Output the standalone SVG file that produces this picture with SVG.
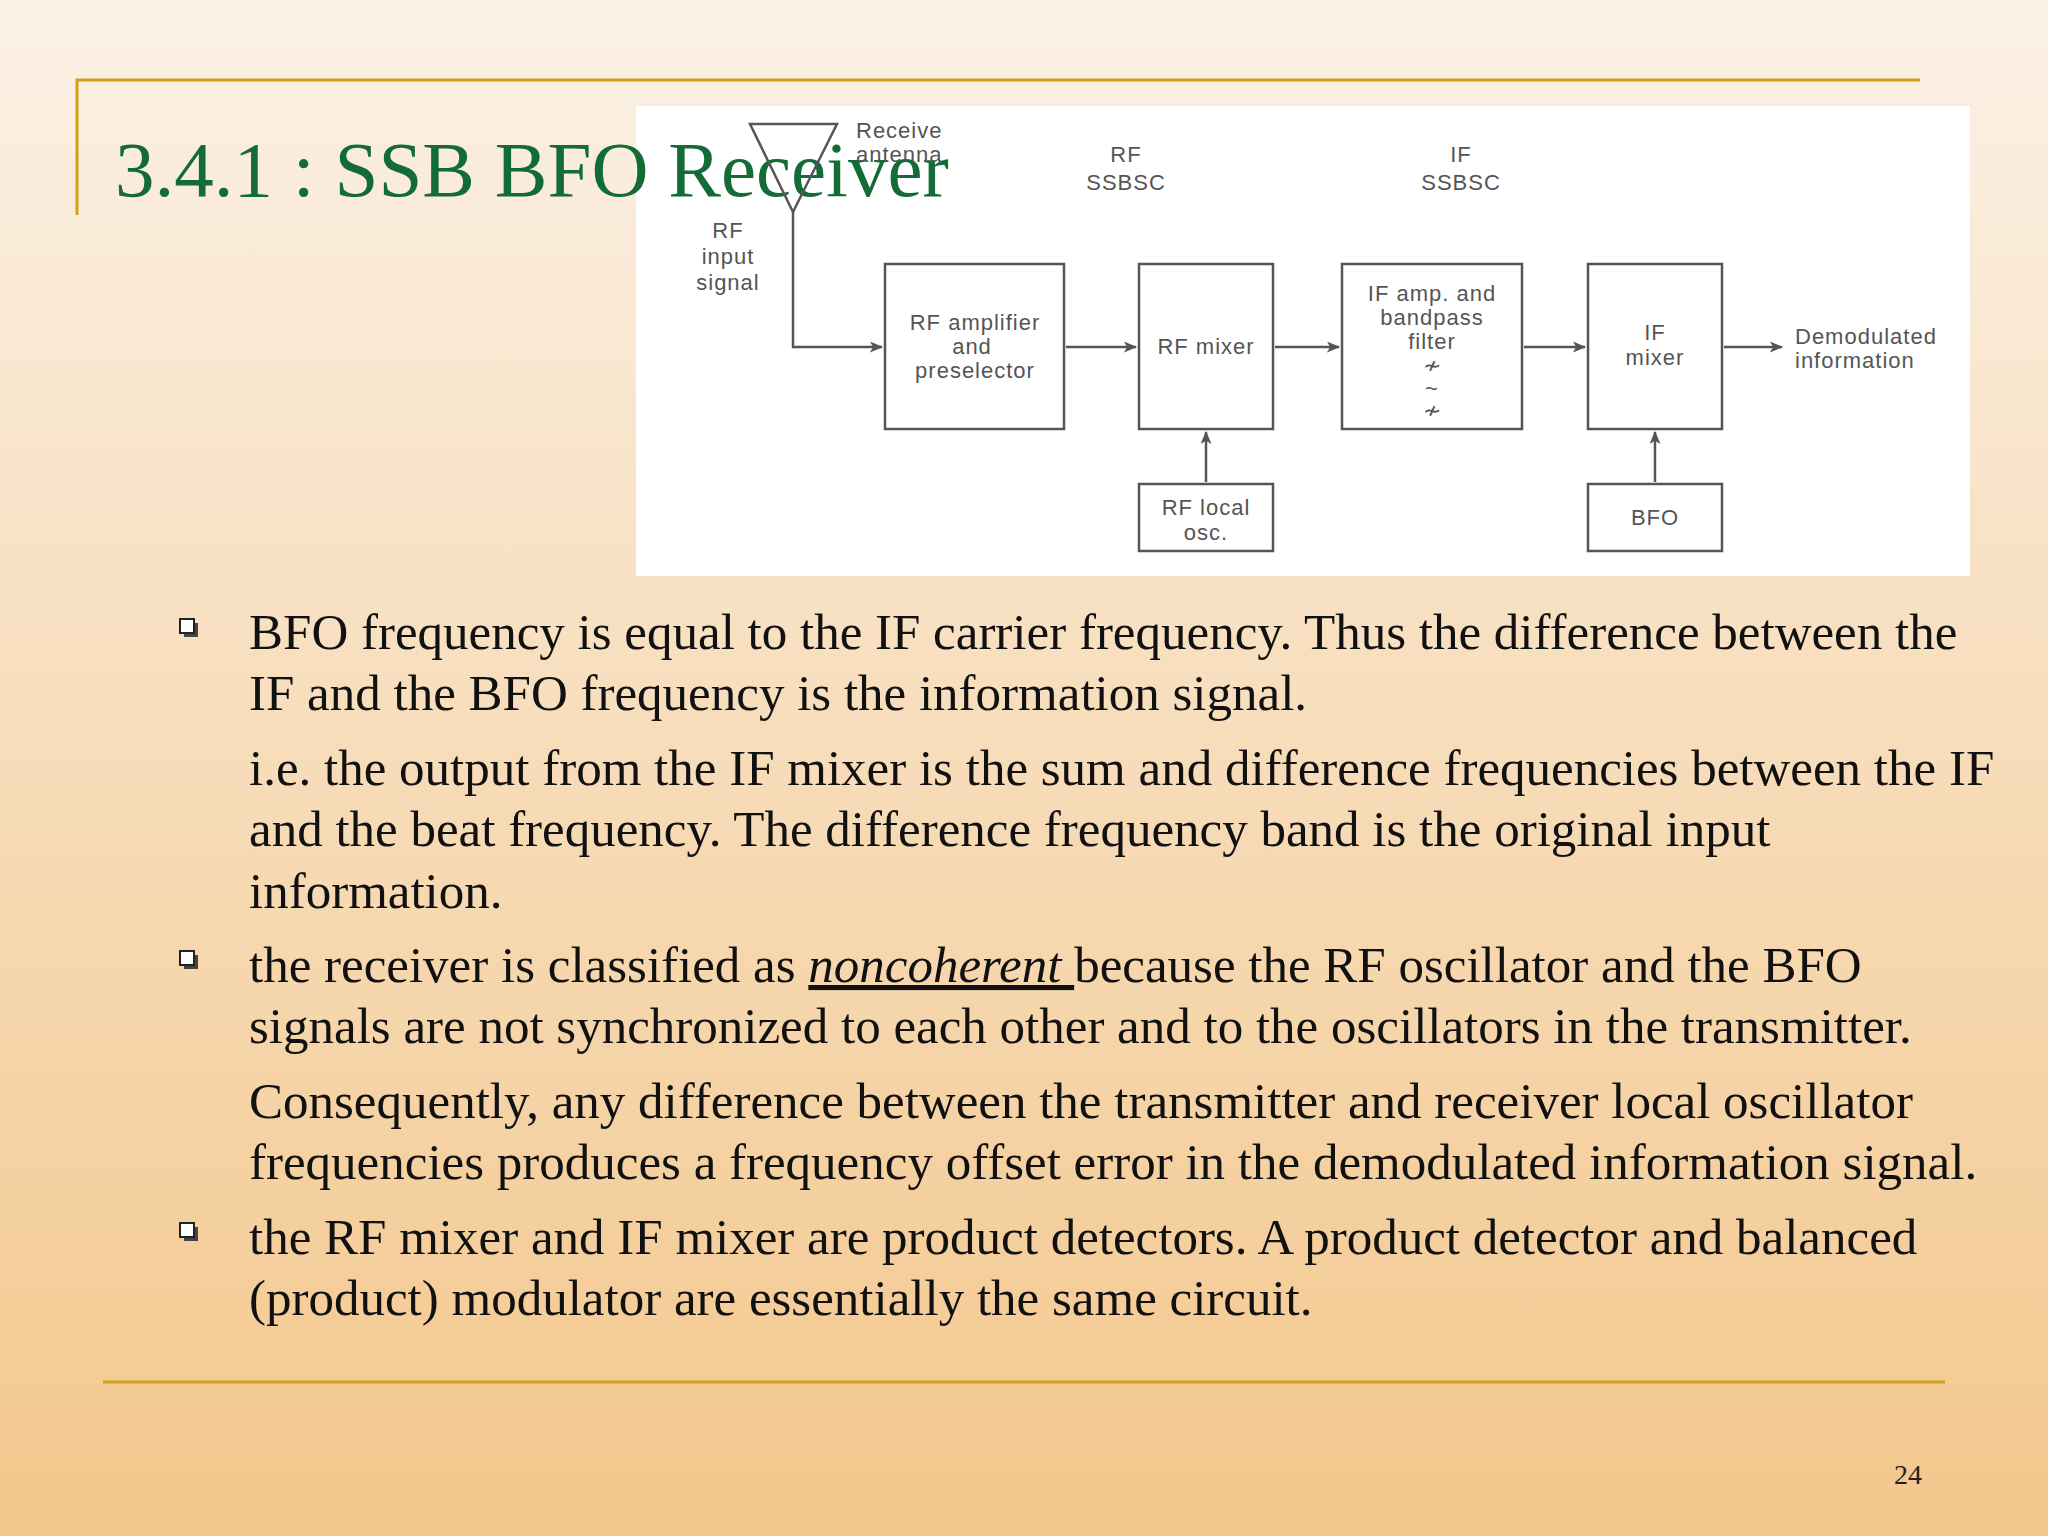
<svg xmlns="http://www.w3.org/2000/svg" width="2048" height="1536" viewBox="0 0 2048 1536">
<defs>
<linearGradient id="bg" x1="0" y1="0" x2="0" y2="1">
<stop offset="0" stop-color="#fbf1e6"/>
<stop offset="1" stop-color="#f3c78c"/>
</linearGradient>
<marker id="ar" viewBox="0 0 12 10" refX="11" refY="5" markerWidth="14" markerHeight="11" markerUnits="userSpaceOnUse" orient="auto">
<path d="M0,0 L12,5 L0,10 L3,5 Z" fill="#555"/>
</marker>
</defs>
<style>
.bx{fill:none;stroke:#555;stroke-width:2.5}
.ln{fill:none;stroke:#555;stroke-width:2.5}
.dt{font-family:"Liberation Sans",Arial,sans-serif;font-size:22px;fill:#555;text-anchor:middle;letter-spacing:1px}
.body{font-family:"Liberation Serif","Times New Roman",serif;font-size:51px;fill:#111}
.gold{stroke:#d4a017;stroke-width:3;fill:none}
.bul{fill:#fff;stroke:#222;stroke-width:2}
</style>
<rect width="2048" height="1536" fill="url(#bg)"/>
<path class="gold" d="M77,215 V80 H1920"/>
<path class="gold" d="M103,1382 H1945"/>
<rect x="636" y="106" width="1334" height="470" fill="#fff"/>
<text x="115" y="196" font-family="Liberation Serif,serif" font-size="79" fill="#136b35">3.4.1 : SSB BFO Receiver</text>
<g id="antenna">
<path class="ln" d="M750,124 H837 L793,212 Z"/>
<text class="dt" x="856" y="138" style="text-anchor:start">Receive</text>
<text class="dt" x="856" y="162" style="text-anchor:start">antenna</text>
</g>
<g id="labels">
<text class="dt" x="1126" y="162">RF</text>
<text class="dt" x="1126" y="190">SSBSC</text>
<text class="dt" x="1461" y="162">IF</text>
<text class="dt" x="1461" y="190">SSBSC</text>
<text class="dt" x="728" y="238">RF</text>
<text class="dt" x="728" y="264">input</text>
<text class="dt" x="728" y="290">signal</text>
<text class="dt" x="1795" y="344" style="text-anchor:start">Demodulated</text>
<text class="dt" x="1795" y="368" style="text-anchor:start">information</text>
</g>
<g id="rfamp"><rect class="bx" x="885" y="264" width="179" height="165"/>
<text class="dt" x="975" y="330">RF amplifier</text><text class="dt" x="972" y="354">and</text><text class="dt" x="975" y="378">preselector</text></g>
<g id="rfmixer"><rect class="bx" x="1139" y="264" width="134" height="165"/>
<text class="dt" x="1206" y="354">RF mixer</text></g>
<g id="ifamp"><rect class="bx" x="1342" y="264" width="180" height="165"/>
<text class="dt" x="1432" y="301">IF amp. and</text><text class="dt" x="1432" y="325">bandpass</text><text class="dt" x="1432" y="349">filter</text>
<text class="dt" x="1432" y="373" font-size="18">≁</text><text class="dt" x="1432" y="396" font-size="18">~</text><text class="dt" x="1432" y="418" font-size="18">≁</text></g>
<g id="ifmixer"><rect class="bx" x="1588" y="264" width="134" height="165"/>
<text class="dt" x="1655" y="340">IF</text><text class="dt" x="1655" y="365">mixer</text></g>
<g id="rflocal"><rect class="bx" x="1139" y="484" width="134" height="67"/>
<text class="dt" x="1206" y="515">RF local</text><text class="dt" x="1206" y="540">osc.</text></g>
<g id="bfo"><rect class="bx" x="1588" y="484" width="134" height="67"/>
<text class="dt" x="1655" y="525">BFO</text></g>
<g id="connectors">
<path class="ln" d="M793,212 V347 H882" marker-end="url(#ar)"/>
<path class="ln" d="M1066,347 H1136" marker-end="url(#ar)"/>
<path class="ln" d="M1275,347 H1339" marker-end="url(#ar)"/>
<path class="ln" d="M1524,347 H1585" marker-end="url(#ar)"/>
<path class="ln" d="M1724,347 H1782" marker-end="url(#ar)"/>
<path class="ln" d="M1206,482 V432" marker-end="url(#ar)"/>
<path class="ln" d="M1655,482 V432" marker-end="url(#ar)"/>
</g>
<g id="text">
<rect x="184" y="623" width="14" height="14" fill="#444"/><rect class="bul" x="180" y="619" width="14" height="14"/>
<rect x="184" y="955" width="14" height="14" fill="#444"/><rect class="bul" x="180" y="951" width="14" height="14"/>
<rect x="184" y="1227" width="14" height="14" fill="#444"/><rect class="bul" x="180" y="1223" width="14" height="14"/>
<text class="body" x="249" y="649">BFO frequency is equal to the IF carrier frequency. Thus the difference between the</text>
<text class="body" x="249" y="710">IF and the BFO frequency is the information signal.</text>
<text class="body" x="249" y="785">i.e. the output from the IF mixer is the sum and difference frequencies between the IF</text>
<text class="body" x="249" y="846">and the beat frequency. The difference frequency band is the original input</text>
<text class="body" x="249" y="908">information.</text>
<text class="body" x="249" y="982">the receiver is classified as <tspan font-style="italic" text-decoration="underline">noncoherent </tspan>because the RF oscillator and the BFO</text>
<text class="body" x="249" y="1043">signals are not synchronized to each other and to the oscillators in the transmitter.</text>
<text class="body" x="249" y="1118">Consequently, any difference between the transmitter and receiver local oscillator</text>
<text class="body" x="249" y="1179">frequencies produces a frequency offset error in the demodulated information signal.</text>
<text class="body" x="249" y="1254">the RF mixer and IF mixer are product detectors. A product detector and balanced</text>
<text class="body" x="249" y="1315">(product) modulator are essentially the same circuit.</text>
<text x="1894" y="1484" font-family="Liberation Serif,serif" font-size="28" fill="#222">24</text>
</g>
</svg>
